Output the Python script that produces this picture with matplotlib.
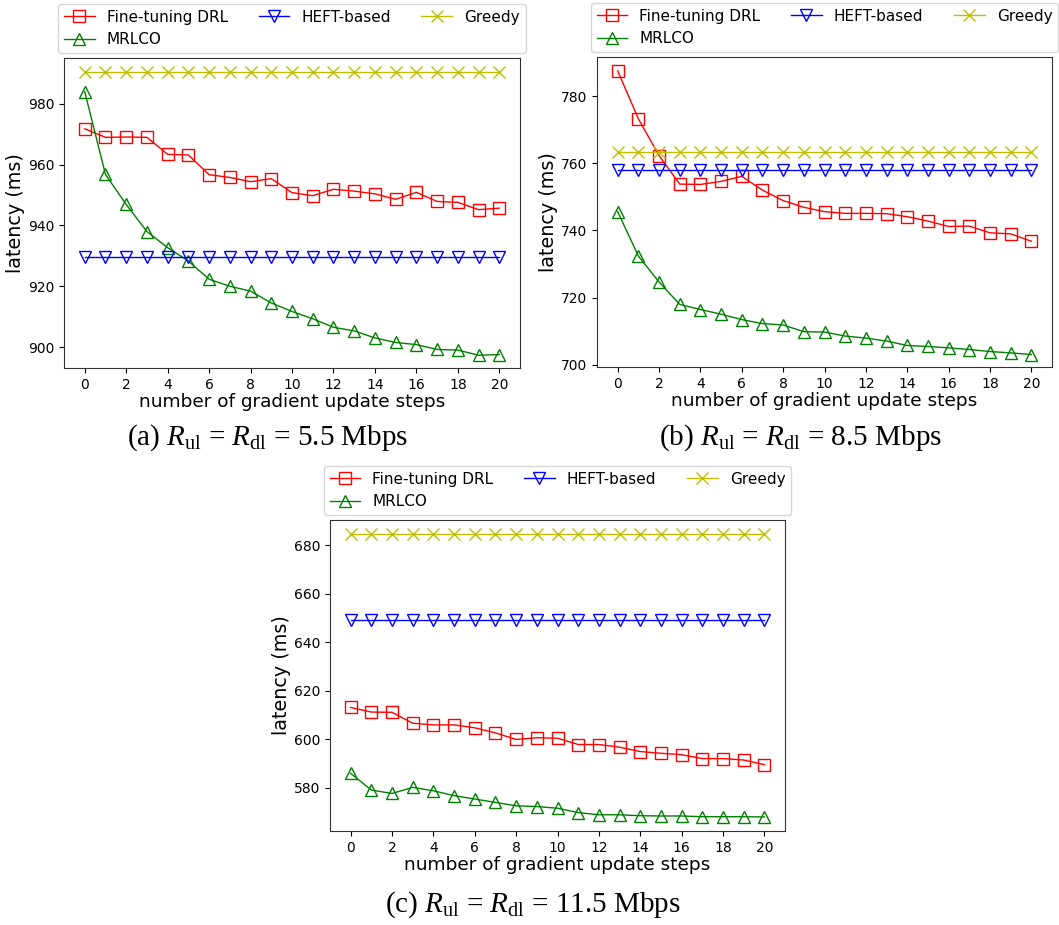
import matplotlib
matplotlib.use('Agg')
import matplotlib.pyplot as plt
import numpy as np

steps = list(range(21))

# (a) 5.5 Mbps
drl_a = [971.8, 969.0, 969.1, 969.0, 963.4, 963.2, 956.7, 955.8, 954.4, 955.4, 950.8,
         949.8, 951.9, 951.3, 950.4, 948.6, 950.9, 947.9, 947.6, 945.2, 945.7]
mrlco_a = [984.0, 956.8, 946.9, 938.0, 932.7, 928.3, 922.3, 920.0, 918.4, 914.5, 911.7,
           909.3, 906.5, 905.3, 903.0, 901.5, 900.8, 899.2, 899.0, 897.3, 897.5]
heft_a = 929.7
greedy_a = 990.4

# (b) 8.5 Mbps
drl_b = [787.5, 773.2, 762.3, 753.8, 753.7, 754.6, 756.1, 752.0, 748.9, 746.9, 745.6,
         745.1, 745.1, 745.0, 744.1, 742.8, 741.2, 741.3, 739.3, 739.0, 736.8]
mrlco_b = [745.6, 732.4, 724.7, 718.0, 716.5, 715.1, 713.5, 712.3, 711.9, 709.9, 709.8,
           708.6, 708.0, 707.1, 705.8, 705.5, 705.1, 704.6, 704.0, 703.6, 703.1]
heft_b = 758.1
greedy_b = 763.4

# (c) 11.5 Mbps
drl_c = [613.1, 611.2, 611.1, 606.6, 605.9, 605.9, 604.7, 602.6, 599.9, 600.6, 600.4,
         597.8, 597.8, 596.7, 594.9, 594.2, 593.6, 592.0, 592.0, 591.4, 589.5]
mrlco_c = [585.9, 579.0, 577.6, 580.1, 578.7, 576.7, 575.3, 573.9, 572.5, 572.2, 571.5,
           569.7, 568.8, 568.8, 568.4, 568.3, 568.3, 568.0, 568.0, 568.0, 567.9]
heft_c = 649.2
greedy_c = 684.9

captions = [r'(a) $R_{\mathrm{ul}}$ = $R_{\mathrm{dl}}$ = 5.5 Mbps',
            r'(b) $R_{\mathrm{ul}}$ = $R_{\mathrm{dl}}$ = 8.5 Mbps',
            r'(c) $R_{\mathrm{ul}}$ = $R_{\mathrm{dl}}$ = 11.5 Mbps']
ylims = [(893.1, 995.1), (699.4, 791.6), (562.1, 690.5)]
yticks = [np.arange(900, 981, 20), np.arange(700, 781, 20), np.arange(580, 681, 20)]

plt.rcParams['mathtext.fontset'] = 'custom'
plt.rcParams['mathtext.rm'] = 'Liberation Serif'
plt.rcParams['mathtext.it'] = 'Liberation Serif:italic'

W, H = 1059, 925
fig = plt.figure(figsize=(W / 100, H / 100), dpi=100)

# left, top, width, height in pixels
boxes = [(64, 58, 456, 310), (597, 57, 455, 310), (330, 520, 455, 311)]
cap_pos = [(268, 438), (800, 438), (533, 905)]
data = [(drl_a, mrlco_a, heft_a, greedy_a),
        (drl_b, mrlco_b, heft_b, greedy_b),
        (drl_c, mrlco_c, heft_c, greedy_c)]

for i in range(3):
    l, t, w, h = boxes[i]
    ax = fig.add_axes([l / W, (H - t - h) / H, w / W, h / H])
    drl, mrlco, heft, greedy = data[i]
    ms = 9
    p1, = ax.plot(steps, drl, color='r', marker='s', mfc='none', ms=ms, lw=1, label='Fine-tuning DRL')
    p2, = ax.plot(steps, mrlco, color='g', marker='^', mfc='none', ms=ms, lw=1, label='MRLCO')
    p3, = ax.plot(steps, [heft] * len(steps), color='b', marker='v', mfc='none', ms=ms, lw=1, label='HEFT-based')
    p4, = ax.plot(steps, [greedy] * len(steps), color='y', marker='x', ms=ms, lw=1, label='Greedy')
    ax.set_xlim(-1, 21)
    ax.set_ylim(*ylims[i])
    ax.set_xticks(range(0, 21, 2))
    ax.set_yticks(yticks[i])
    ax.tick_params(labelsize=10)
    for s in ax.spines.values():
        s.set_color('#333333')
    ax.set_xlabel('number of gradient update steps', fontsize=13.3, labelpad=1)
    ax.set_ylabel('latency (ms)', fontsize=13.8, labelpad=2)
    ax.legend(handles=[p1, p2, p3, p4], loc='lower center', bbox_to_anchor=(0.5, 1.0),
              ncol=3, fontsize=11, borderaxespad=0.3)
    cx, cy = cap_pos[i]
    fig.text(cx / W, 1 - cy / H, captions[i], ha='center', va='center',
             fontsize=21, family='Liberation Serif')

plt.savefig('out.png', dpi=100)
